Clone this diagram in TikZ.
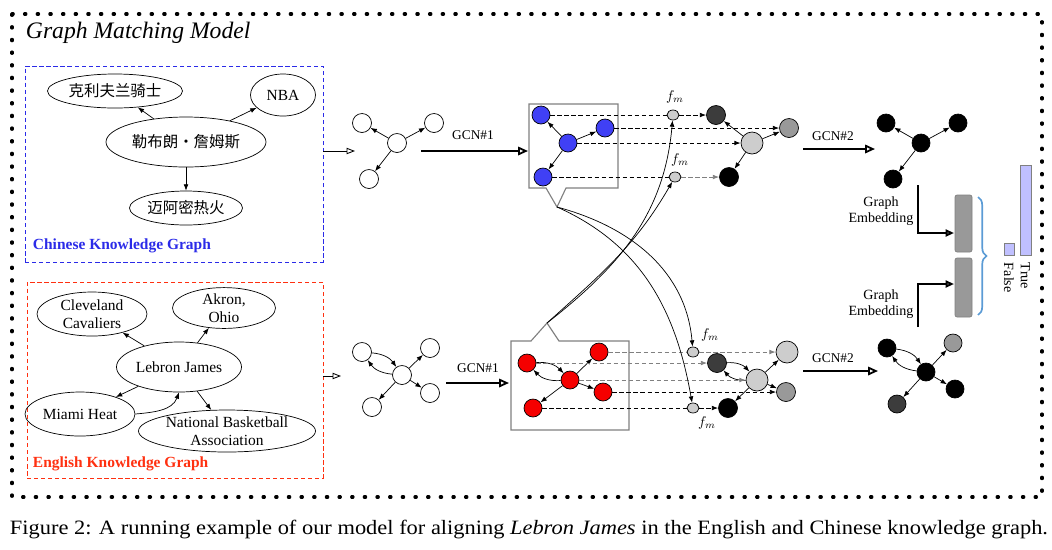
\documentclass[tikz,border=0pt]{standalone}
\usepackage{fontspec}
\setmainfont{Liberation Serif}
\newfontfamily\cjk{Noto Sans CJK SC}
\usetikzlibrary{shapes.geometric,arrows.meta,decorations.pathreplacing}

\newdimen\pxu
\pxu=0.025cm

\definecolor{nodeblue}{HTML}{4040F5}
\definecolor{nodered}{HTML}{F50000}
\definecolor{kgblue}{HTML}{2B2BE8}
\definecolor{kgred}{HTML}{FF3010}
\definecolor{lightg}{HTML}{CDCDCD}
\definecolor{midg}{HTML}{999999}
\definecolor{darkg}{HTML}{3C3C3C}
\definecolor{bracecol}{HTML}{5B9BD5}
\definecolor{scorecol}{HTML}{C0C0FF}

\tikzset{
  frame/.style={line width=2.2pt, dash pattern=on 1pt off 8pt, line cap=round},
  kgbox/.style={draw, line width=0.6pt, dash pattern=on 3pt off 2pt, inner sep=0pt},
  kgname/.style={font=\fontsize{11}{12}\selectfont\bfseries, anchor=west},
  ent/.style={draw, ellipse, line width=0.5pt, inner sep=0pt, align=center,
    font=\fontsize{11}{12.8}\selectfont},
  vtx/.style={draw, circle, line width=0.5pt, inner sep=0pt, minimum size=19*\pxu, fill=white},
  bigvtx/.style={vtx, minimum size=22*\pxu},
  fm/.style={draw, ellipse, line width=0.5pt, inner sep=0pt, fill=lightg,
    minimum width=12*\pxu, minimum height=10*\pxu},
  fmlab/.style={font=\fontsize{10}{12}\selectfont},
  arr/.style={->, line width=0.5pt},
  boxline/.style={draw=gray, line width=0.8pt},
  match/.style={line width=0.6pt, dash pattern=on 3pt off 2pt},
  gcn/.style={line width=1.3pt, -{Triangle[open, length=7pt, width=6pt]}},
  gcnlab/.style={font=\fontsize{9.5}{11}\selectfont},
  kgarr/.style={line width=0.6pt, -{Triangle[open, length=6pt, width=4.5pt]}},
  emb/.style={line width=1.4pt, -{Triangle[open, length=6pt, width=5pt]}},
  emblab/.style={font=\fontsize{10}{11.5}\selectfont, align=center},
  embbar/.style={draw=gray, fill=midg, rounded corners=1.5pt, line width=0.5pt,
    minimum width=17*\pxu, inner sep=0pt},
  score/.style={draw=gray, fill=scorecol, line width=0.6pt, inner sep=0pt, anchor=south},
  scorelab/.style={font=\fontsize{10}{12}\selectfont, rotate=-90, anchor=west}
}

\begin{document}
\begin{tikzpicture}[x=0.025cm, y=-0.025cm, >={Latex[length=4.5pt,width=3.4pt]}]
\useasboundingbox (0,0) rectangle (1052,549);

% outer frame
\draw[frame] (12,14) rectangle (1042,497);
\node[anchor=west, font=\fontsize{16.8}{18}\selectfont\itshape] (title) at (21,33) {Graph Matching Model};

% Chinese knowledge graph
\node[kgbox, draw=kgblue, minimum width=298*\pxu, minimum height=196*\pxu] (zkg) at (174,164) {};
\node[kgname, text=kgblue] (zkgname) at (28,246) {Chinese Knowledge Graph};
\node[ent, minimum width=135*\pxu, minimum height=34*\pxu] (zcav) at (115,91) {\cjk 克利夫兰骑士};
\node[ent, minimum width=65*\pxu, minimum height=42*\pxu] (znba) at (283,95) {NBA};
\node[ent, minimum width=160*\pxu, minimum height=50*\pxu] (zlj) at (186,142) {\cjk 勒布朗・詹姆斯};
\node[ent, minimum width=113*\pxu, minimum height=34*\pxu] (zmia) at (186,208) {\cjk 迈阿密热火};
\draw[arr] (zlj) -- (zcav);
\draw[arr] (zlj) -- (znba);
\draw[arr] (zlj) -- (zmia);

% English knowledge graph
\node[kgbox, draw=kgred, minimum width=296*\pxu, minimum height=196*\pxu] (ekg) at (175,380) {};
\node[kgname, text=kgred] (ekgname) at (28,464) {English Knowledge Graph};
\node[ent, minimum width=110*\pxu, minimum height=44*\pxu] (ecav) at (92,314) {Cleveland\\Cavaliers};
\node[ent, minimum width=103*\pxu, minimum height=38*\pxu] (eakr) at (224,308) {Akron,\\Ohio};
\node[ent, minimum width=125*\pxu, minimum height=50*\pxu] (elj) at (179,367) {Lebron James};
\node[ent, minimum width=110*\pxu, minimum height=44*\pxu] (emia) at (80,414) {Miami Heat};
\node[ent, minimum width=177*\pxu, minimum height=42*\pxu] (enba) at (227,431) {National Basketball\\Association};
\draw[arr] (elj) -- (ecav);
\draw[arr] (elj) -- (eakr);
\draw[arr] (elj) -- (emia);
\draw[arr] (emia.east) to[out=5, in=-110] (elj.south);
\draw[arr] (elj) -- (enba);

% input graphs
\coordinate (zin) at (355,151);
\coordinate (ein) at (341,376);
\draw[kgarr] (zkg.east |- zin) -- (zin);
\draw[kgarr] (ekg.east |- ein) -- (ein);

\node[vtx] (zg1) at (362,123) {};
\node[vtx] (zg2) at (434,123) {};
\node[vtx] (zg0) at (397,143) {};
\node[vtx] (zg3) at (369,179) {};
\draw[arr] (zg0) -- (zg1);
\draw[arr] (zg0) -- (zg2);
\draw[arr] (zg0) -- (zg3);

\node[vtx] (eg1) at (362,352) {};
\node[vtx] (eg2) at (430,348) {};
\node[vtx] (eg0) at (402,375) {};
\node[vtx] (eg3) at (430,393) {};
\node[vtx] (eg4) at (372,407) {};
\draw[arr] (eg1) to[bend left=25] (eg0);
\draw[arr] (eg0) to[bend left=25] (eg1);
\draw[arr] (eg0) -- (eg2);
\draw[arr] (eg0) -- (eg3);
\draw[arr] (eg0) -- (eg4);

% GCN#1
\coordinate (zgcn) at (421,151);
\coordinate (zboxw) at (528,151);
\coordinate (egcn) at (446,383);
\coordinate (eboxw) at (509,383);
\draw[gcn] (zgcn) -- (zboxw);
\draw[gcn] (egcn) -- (eboxw);
\node[gcnlab] (zgcnlab) at (473,135) {GCN\#1};
\node[gcnlab] (egcnlab) at (478,368) {GCN\#1};

% callout boxes
\draw[boxline] (529,104) -- (618,104) -- (618,188) -- (566,188) -- (557,207) coordinate (ztip)
  -- (546,188) -- (529,188) -- cycle;
\draw[boxline] (511,341) -- (531,341) -- (547,323) coordinate (etip) -- (559,341)
  -- (629,341) -- (629,430) -- (511,430) -- cycle;

\node[vtx, fill=nodeblue, minimum size=18*\pxu] (zb1) at (541,115) {};
\node[vtx, fill=nodeblue, minimum size=18*\pxu] (zb2) at (605,128) {};
\node[vtx, fill=nodeblue, minimum size=18*\pxu] (zb0) at (568,143) {};
\node[vtx, fill=nodeblue, minimum size=18*\pxu] (zb3) at (543,177) {};
\draw[arr] (zb0) -- (zb1);
\draw[arr] (zb0) -- (zb2);
\draw[arr] (zb0) -- (zb3);

\node[vtx, fill=nodered, minimum size=18*\pxu] (er1) at (527,363) {};
\node[vtx, fill=nodered, minimum size=18*\pxu] (er2) at (599,352) {};
\node[vtx, fill=nodered, minimum size=18*\pxu] (er0) at (570,380) {};
\node[vtx, fill=nodered, minimum size=18*\pxu] (er3) at (603,392) {};
\node[vtx, fill=nodered, minimum size=18*\pxu] (er4) at (533,408) {};
\draw[arr] (er1) to[bend left=25] (er0);
\draw[arr] (er0) to[bend left=25] (er1);
\draw[arr] (er0) -- (er2);
\draw[arr] (er0) -- (er3);
\draw[arr] (er0) -- (er4);

% matching functions
\node[fm] (zf1) at (673,115) {};
\node[fm] (zf2) at (675,177) {};
\node[fm] (ef1) at (693,352) {};
\node[fm] (ef2) at (693,408) {};
\node[fmlab] (zf1lab) at (675,97) {$f_m$};
\node[fmlab] (zf2lab) at (680,160) {$f_m$};
\node[fmlab] (ef1lab) at (710,335) {$f_m$};
\node[fmlab] (ef2lab) at (707,423) {$f_m$};

% matched graphs
\node[vtx, fill=darkg] (zm1) at (716,115) {};
\node[vtx, fill=midg] (zm2) at (789,128) {};
\node[bigvtx, fill=lightg] (zm0) at (752,143) {};
\node[vtx, fill=black] (zm3) at (729,177) {};
\draw[arr] (zm0) -- (zm1);
\draw[arr] (zm0) -- (zm2);
\draw[arr] (zm0) -- (zm3);

\node[vtx, fill=darkg] (em1) at (717,363) {};
\node[bigvtx, fill=lightg] (em2) at (787,352) {};
\node[bigvtx, fill=lightg] (em0) at (757,380) {};
\node[vtx, fill=midg] (em3) at (786,392) {};
\node[vtx, fill=black] (em4) at (728,408) {};
\draw[arr] (em1) to[bend left=25] (em0);
\draw[arr] (em0) to[bend left=25] (em1);
\draw[arr] (em0) -- (em2);
\draw[arr] (em0) -- (em3);
\draw[arr] (em0) -- (em4);

% dashed correspondences
\draw[match] (zb1) -- (zf1);
\draw[match, ->] (zf1) -- (zm1);
\draw[match, ->] (zb2) -- (zm2);
\draw[match, ->] (zb0) -- (zm0);
\draw[match] (zb3) -- (zf2);
\draw[match, gray, ->] (zf2) -- (zm3);

\draw[match, gray] (er2) -- (ef1);
\draw[match, gray, ->] (ef1) -- (em2);
\draw[match, gray, ->] (er1) -- (em1);
\draw[match, gray, ->] (er0) -- (em0);
\draw[match, ->] (er3) -- (em3);
\draw[match] (er4) -- (ef2);
\draw[match, ->] (ef2) -- (em4);

% cross-graph attention
\draw[arr] (etip) to[out=38, in=-95] (zf1);
\draw[arr] (etip) to[out=42, in=-120] (zf2);
\draw[arr] (ztip) to[out=-15, in=95] (ef1);
\draw[arr] (ztip) to[out=-24, in=100] (ef2);

% GCN#2
\coordinate (zgcn2) at (803,149);
\coordinate (zgcn2e) at (875,149);
\coordinate (egcn2) at (803,371);
\coordinate (egcn2e) at (878,371);
\draw[gcn] (zgcn2) -- (zgcn2e);
\draw[gcn] (egcn2) -- (egcn2e);
\node[gcnlab] (zgcn2lab) at (833,136) {GCN\#2};
\node[gcnlab] (egcn2lab) at (833,358) {GCN\#2};

\node[vtx, fill=black, minimum size=18*\pxu] (rt1) at (886,123) {};
\node[vtx, fill=black, minimum size=18*\pxu] (rt2) at (958,123) {};
\node[vtx, fill=black, minimum size=18*\pxu] (rt0) at (921,143) {};
\node[vtx, fill=black, minimum size=18*\pxu] (rt3) at (893,179) {};
\draw[arr] (rt0) -- (rt1);
\draw[arr] (rt0) -- (rt2);
\draw[arr] (rt0) -- (rt3);

\node[vtx, fill=black, minimum size=18*\pxu] (rb1) at (887,348) {};
\node[vtx, fill=midg, minimum size=18*\pxu] (rb2) at (953,343) {};
\node[vtx, fill=black, minimum size=18*\pxu] (rb0) at (926,372) {};
\node[vtx, fill=black, minimum size=18*\pxu] (rb3) at (955,389) {};
\node[vtx, fill=darkg, minimum size=18*\pxu] (rb4) at (897,404) {};
\draw[arr] (rb1) to[bend left=25] (rb0);
\draw[arr] (rb0) to[bend left=25] (rb1);
\draw[arr] (rb0) -- (rb2);
\draw[arr] (rb0) -- (rb3);
\draw[arr] (rb0) -- (rb4);

% graph embeddings
\node[emblab] (zemblab) at (881,211) {Graph\\Embedding};
\node[emblab] (eemblab) at (881,304) {Graph\\Embedding};
\node[embbar, minimum height=57*\pxu] (zbar) at (963.5,223.5) {};
\node[embbar, minimum height=59*\pxu] (ebar) at (963.5,287.5) {};
\coordinate (zembtop) at (918,185);
\coordinate (zembin) at (954,233);
\coordinate (eembbot) at (918,327);
\coordinate (eembin) at (954,284);
\draw[emb] (zembtop) |- (zembin);
\draw[emb] (eembbot) |- (eembin);
\draw[bracecol, line width=1.2pt, decorate, decoration={brace, amplitude=6pt}]
  (978,197) -- (978,315);

% matching score
\node[score, minimum width=10*\pxu, minimum height=12*\pxu] (sfalse) at (1009,256) {};
\node[score, minimum width=11*\pxu, minimum height=90*\pxu] (strue) at (1025.5,256) {};
\node[scorelab] (tfalse) at (1009,258) {False};
\node[scorelab] (ttrue) at (1025.5,258) {True};

% caption
\node[font=\fontsize{14.5}{16}\selectfont] (caption) at (529,530)
  {\scalebox{1.1}[1]{Figure 2: A running example of our model for aligning \textit{Lebron James} in the English and Chinese knowledge graph.}};
\end{tikzpicture}
\end{document}
